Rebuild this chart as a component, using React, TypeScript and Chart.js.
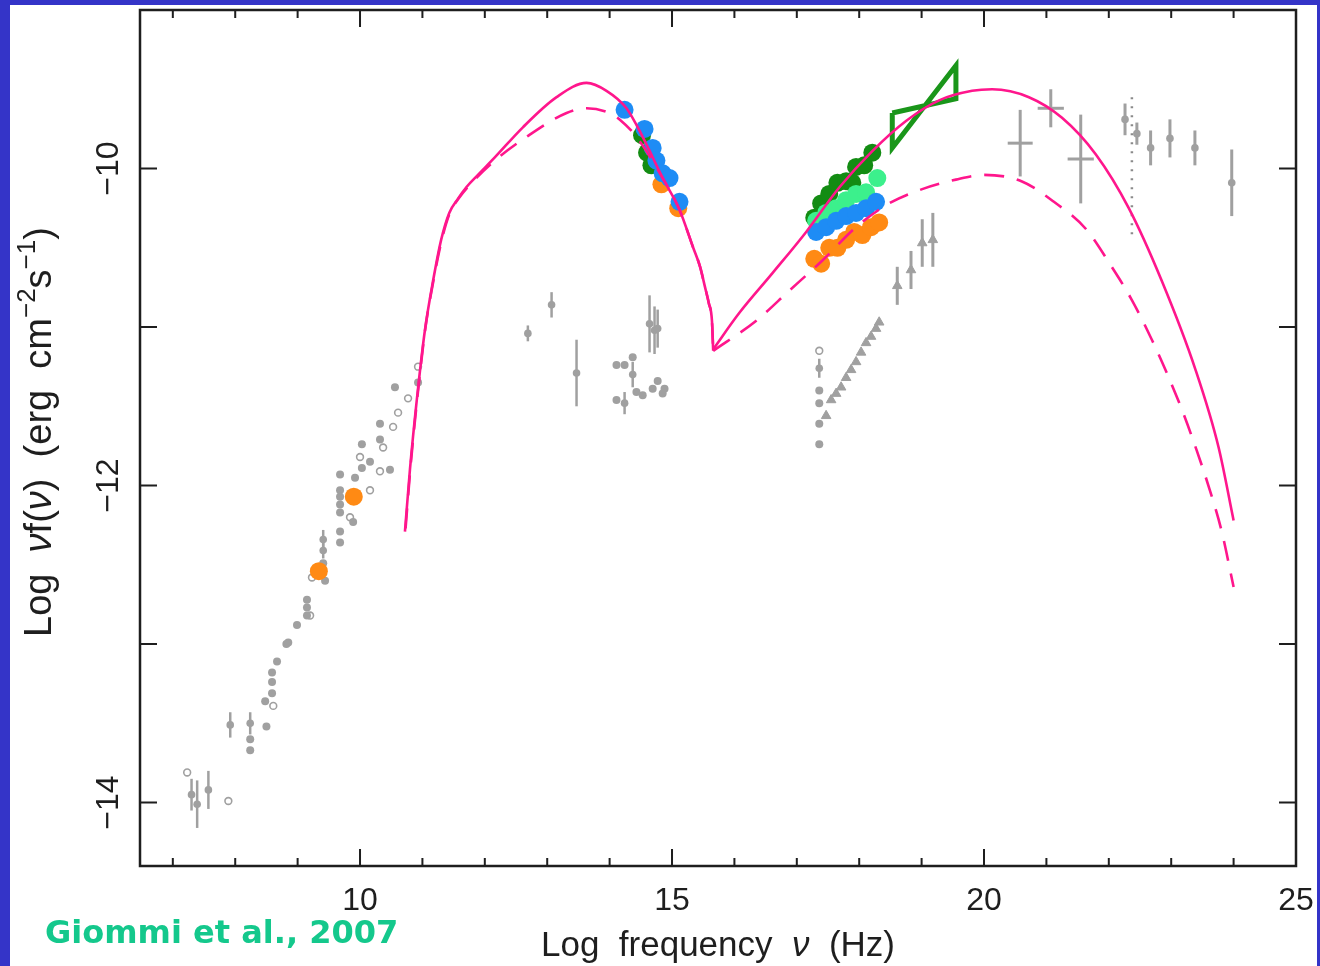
import React, { useEffect, useRef } from "react";
import { Chart, registerables } from "chart.js";

Chart.register(...registerables);

// ---------- axis ranges / ticks ----------
const X_MIN = 6.474;
const X_MAX = 25.0;
const Y_MIN = -14.4;
const Y_MAX = -9.0;
const X_TICK_LABELS = [10, 15, 20, 25];
const Y_TICK_LABELS = [-10, -12, -14];

// ---------- model curves ----------
const SOLID_SYN_X = [10.72, 10.8, 10.91, 11.04, 11.17, 11.3, 11.43, 11.57, 11.71, 11.89, 12.16, 12.61, 13.15, 13.63, 13.95, 14.27, 14.53, 14.85, 15.12, 15.34, 15.45, 15.53, 15.59, 15.64, 15.66];
const SOLID_SYN_Y = [-12.29, -11.9, -11.46, -11.02, -10.71, -10.45, -10.28, -10.19, -10.115, -10.04, -9.93, -9.74, -9.55, -9.46, -9.51, -9.62, -9.8, -10.06, -10.26, -10.5, -10.62, -10.75, -10.85, -10.96, -11.15];
const SOLID_IC_X = [15.66, 16.08, 16.61, 17.15, 17.68, 18.21, 18.75, 19.28, 19.81, 20.13, 20.72, 21.25, 21.79, 22.32, 22.85, 23.39, 23.76, 24.0];
const SOLID_IC_Y = [-11.14, -10.91, -10.66, -10.4, -10.12, -9.89, -9.7, -9.57, -9.51, -9.5, -9.55, -9.68, -9.91, -10.25, -10.71, -11.27, -11.76, -12.22];
const DASH_SYN_X = [10.73, 10.81, 10.92, 11.05, 11.18, 11.31, 11.44, 11.58, 11.72, 12.13, 12.67, 13.31, 13.63, 14.0, 14.16, 14.43, 14.85, 15.12, 15.34, 15.45, 15.53, 15.59, 15.64, 15.66];
const DASH_SYN_Y = [-12.27, -11.88, -11.44, -11.0, -10.7, -10.45, -10.28, -10.19, -10.12, -9.96, -9.8, -9.65, -9.62, -9.65, -9.69, -9.8, -10.06, -10.26, -10.5, -10.62, -10.75, -10.85, -10.96, -11.15];
const DASH_IC_X = [15.66, 16.35, 16.88, 17.41, 17.95, 18.48, 19.01, 19.55, 20.0, 20.6, 21.12, 21.63, 22.03, 22.37, 22.69, 22.93, 23.19, 23.41, 23.62, 23.81, 24.0];
const DASH_IC_Y = [-11.15, -10.96, -10.77, -10.58, -10.37, -10.22, -10.13, -10.07, -10.04, -10.08, -10.21, -10.38, -10.61, -10.83, -11.08, -11.29, -11.54, -11.78, -12.03, -12.29, -12.64];

// ---------- BAT bow-tie ----------
const BOW_X = [18.53, 19.55, 19.55, 18.53, 18.53];
const BOW_Y = [-9.65, -9.56, -9.35, -9.87, -9.65];

// ---------- coloured simultaneous data ----------
const BLUE_X = [14.24, 14.56, 14.69, 14.75, 14.85, 14.96, 15.12, 17.31, 17.47, 17.63, 17.79, 17.95, 18.11, 18.27];
const BLUE_Y = [-9.63, -9.75, -9.87, -9.95, -10.03, -10.06, -10.21, -10.4, -10.37, -10.33, -10.3, -10.28, -10.25, -10.21];
const ORANGE_X = [9.34, 9.9, 14.83, 15.1, 17.28, 17.39, 17.52, 17.65, 17.79, 17.92, 18.05, 18.19, 18.32];
const ORANGE_Y = [-12.54, -12.07, -10.1, -10.25, -10.57, -10.6, -10.5, -10.5, -10.45, -10.4, -10.42, -10.37, -10.34];
const LGREEN_X = [17.31, 17.47, 17.63, 17.79, 17.95, 18.11, 18.29];
const LGREEN_Y = [-10.33, -10.28, -10.25, -10.2, -10.16, -10.15, -10.06];
const DGREEN_X = [14.52, 14.6, 14.67, 17.28, 17.39, 17.52, 17.65, 17.79, 17.89, 17.95, 18.08, 18.21];
const DGREEN_Y = [-9.79, -9.9, -9.98, -10.31, -10.22, -10.16, -10.09, -10.08, -10.09, -9.99, -9.98, -9.9];

// ---------- archival (grey) data ----------
const GRAY_DOT_X = [10.93, 10.56, 10.32, 10.32, 10.03, 10.16, 10.03, 9.92, 10.48, 9.68, 9.68, 9.68, 9.68, 9.68, 9.89, 9.68, 9.68, 9.41, 9.44, 9.15, 9.15, 9.15, 8.99, 8.85, 8.82, 8.67, 8.59, 8.59, 8.59, 8.48, 8.5, 8.24, 8.24,
  14.11, 14.24, 14.37, 14.11, 14.43, 14.53, 14.69, 14.77, 14.88, 14.85, 17.36, 17.36, 17.36, 17.36];
const GRAY_DOT_Y = [-11.35, -11.38, -11.61, -11.71, -11.74, -11.85, -11.89, -11.95, -11.9, -11.93, -12.03, -12.07, -12.12, -12.17, -12.23, -12.29, -12.36, -12.49, -12.6, -12.72, -12.77, -12.82, -12.88, -12.99, -13.0, -13.11, -13.18, -13.24, -13.31, -13.36, -13.52, -13.6, -13.67,
  -11.24, -11.24, -11.19, -11.46, -11.41, -11.43, -11.39, -11.34, -11.39, -11.42, -11.4, -11.48, -11.61, -11.74];
const GRAY_OPEN_X = [10.93, 10.77, 10.61, 10.53, 10.37, 10.0, 10.32, 10.16, 9.84, 9.23, 9.2, 8.61, 7.23, 7.89, 17.36];
const GRAY_OPEN_Y = [-11.25, -11.45, -11.54, -11.63, -11.76, -11.82, -11.91, -12.03, -12.2, -12.58, -12.82, -13.39, -13.81, -13.99, -11.15];
const GRAY_ERR_X = [9.41, 9.41, 8.24, 7.92, 7.3, 7.39, 7.57, 12.69, 13.07, 13.47, 14.37, 14.24, 14.64, 14.72, 14.77, 17.36];
const GRAY_ERR_Y = [-12.34, -12.41, -13.5, -13.51, -13.95, -14.01, -13.92, -11.04, -10.86, -11.29, -11.3, -11.48, -10.98, -11.02, -11.01, -11.26];
const GRAY_ERR_E = [0.06, 0.05, 0.07, 0.08, 0.1, 0.15, 0.12, 0.05, 0.08, 0.21, 0.08, 0.07, 0.18, 0.15, 0.12, 0.06];
const TRI_X = [17.47, 17.55, 17.63, 17.71, 17.79, 17.87, 17.95, 18.03, 18.11, 18.19, 18.27, 18.32, 18.61, 18.83, 19.01, 19.18];
const TRI_Y = [-11.56, -11.46, -11.42, -11.38, -11.32, -11.27, -11.22, -11.16, -11.1, -11.06, -11.01, -10.97, -10.74, -10.64, -10.47, -10.45];
const TRI_E = [0, 0, 0, 0, 0, 0, 0, 0, 0, 0, 0, 0, 0.12, 0.12, 0.15, 0.17];
const GAMMA_X = [20.58, 21.07, 21.55];
const GAMMA_Y = [-9.84, -9.62, -9.94];
const GAMMA_EX = [0.2, 0.21, 0.21];
const GAMMA_EY = [0.21, 0.12, 0.28];
const TEV_X = [22.26, 22.45, 22.67, 22.98, 23.38, 23.97];
const TEV_Y = [-9.69, -9.78, -9.87, -9.81, -9.87, -10.09];
const TEV_E = [0.1, 0.07, 0.11, 0.12, 0.11, 0.21];
const LIMIT_X = [22.37, 22.37];
const LIMIT_Y = [-9.55, -10.42];

// ---------- styles ----------
const PINK = "#ff168c";
const GRAY = "#a0a0a0";
const AXIS = "#1e1e1e";
const FONT = "'Liberation Sans', Arial, sans-serif";

const pts = (xs: number[], ys: number[]) => xs.map((x, i) => ({ x, y: ys[i] }));
const ptsErr = (xs: number[], ys: number[], ey: number[], ex?: number[]) =>
  xs.map((x, i) => ({ x, y: ys[i], ey: ey[i], ex: ex ? ex[i] : 0 }));

const bgPlugin = {
  id: "bg",
  beforeDraw(chart: any) {
    const { ctx, width, height } = chart;
    ctx.save();
    ctx.fillStyle = "#ffffff";
    ctx.fillRect(0, 0, width, height);
    ctx.fillStyle = "#3434c8";
    ctx.fillRect(0, 0, 10, height);
    ctx.fillRect(0, 0, width, 5);
    ctx.fillRect(width - 3, 0, 3, height);
    ctx.restore();
  },
};

const errPlugin = {
  id: "errBars",
  beforeDatasetsDraw(chart: any) {
    const { ctx } = chart;
    const xs = chart.scales.x;
    const ys = chart.scales.y;
    ctx.save();
    chart.data.datasets.forEach((ds: any) => {
      if (!ds.errBars) return;
      ctx.strokeStyle = ds.errColor;
      ctx.lineWidth = ds.errWidth;
      ds.data.forEach((p: any) => {
        const px = xs.getPixelForValue(p.x);
        const py = ys.getPixelForValue(p.y);
        if (p.ey) {
          ctx.beginPath();
          ctx.moveTo(px, ys.getPixelForValue(p.y - p.ey));
          ctx.lineTo(px, ys.getPixelForValue(p.y + p.ey));
          ctx.stroke();
        }
        if (p.ex) {
          ctx.beginPath();
          ctx.moveTo(xs.getPixelForValue(p.x - p.ex), py);
          ctx.lineTo(xs.getPixelForValue(p.x + p.ex), py);
          ctx.stroke();
        }
      });
    });
    ctx.restore();
  },
};

type Seg = { t: string; italic?: boolean; sup?: boolean };

function drawRich(ctx: CanvasRenderingContext2D, segs: Seg[], size: number, cx: number, baseY: number) {
  const fontFor = (s: Seg) => `${s.italic ? "italic " : ""}${s.sup ? Math.round(size * 0.68) : size}px ${FONT}`;
  let total = 0;
  const widths = segs.map((s) => {
    ctx.font = fontFor(s);
    const w = ctx.measureText(s.t).width;
    total += w;
    return w;
  });
  let x = cx - total / 2;
  segs.forEach((s, i) => {
    ctx.font = fontFor(s);
    ctx.fillText(s.t, x, s.sup ? baseY - size * 0.42 : baseY);
    x += widths[i];
  });
}

const axesPlugin = {
  id: "axesBox",
  afterDraw(chart: any) {
    const { ctx, chartArea: a } = chart;
    const xs = chart.scales.x;
    const ys = chart.scales.y;
    ctx.save();
    ctx.strokeStyle = AXIS;
    ctx.lineWidth = 2.5;
    ctx.strokeRect(a.left, a.top, a.right - a.left, a.bottom - a.top);
    ctx.lineWidth = 2;
    ctx.beginPath();
    for (let v = Math.ceil(X_MIN); v <= Math.floor(X_MAX); v++) {
      const px = xs.getPixelForValue(v);
      const len = v % 5 === 0 ? 17 : 8;
      ctx.moveTo(px, a.bottom);
      ctx.lineTo(px, a.bottom - len);
      ctx.moveTo(px, a.top);
      ctx.lineTo(px, a.top + len);
    }
    for (let v = Math.ceil(Y_MIN); v <= Math.floor(Y_MAX); v++) {
      const py = ys.getPixelForValue(v);
      ctx.moveTo(a.left, py);
      ctx.lineTo(a.left + 17, py);
      ctx.moveTo(a.right, py);
      ctx.lineTo(a.right - 17, py);
    }
    ctx.stroke();

    ctx.fillStyle = AXIS;
    ctx.font = `32px ${FONT}`;
    ctx.textAlign = "center";
    ctx.textBaseline = "alphabetic";
    X_TICK_LABELS.forEach((v) => {
      ctx.fillText(String(v), xs.getPixelForValue(v), 910);
    });
    Y_TICK_LABELS.forEach((v) => {
      ctx.save();
      ctx.translate(118, ys.getPixelForValue(v));
      ctx.rotate(-Math.PI / 2);
      ctx.fillText("\u2212" + String(Math.abs(v)), 0, 0);
      ctx.restore();
    });

    ctx.textAlign = "left";
    drawRich(ctx, [{ t: "Log  frequency  " }, { t: "\u03bd", italic: true }, { t: "  (Hz)" }], 35, 718, 956);

    ctx.save();
    ctx.translate(51, 432);
    ctx.rotate(-Math.PI / 2);
    drawRich(
      ctx,
      [
        { t: "Log  " },
        { t: "\u03bd", italic: true },
        { t: "f(" },
        { t: "\u03bd", italic: true },
        { t: ")  (erg  cm" },
        { t: "\u22122", sup: true },
        { t: "s" },
        { t: "\u22121", sup: true },
        { t: ")" },
      ],
      38,
      0,
      0
    );
    ctx.restore();

    ctx.fillStyle = "#14c88c";
    ctx.font = `bold 32px 'DejaVu Sans', Verdana, sans-serif`;
    ctx.fillText("Giommi et al., 2007", 45, 943);
    ctx.restore();
  },
};

export default function App() {
  const ref = useRef<HTMLCanvasElement | null>(null);

  useEffect(() => {
    if (!ref.current) return;
    const curve = (d: any[], dashed: boolean) => ({
      data: d,
      showLine: true,
      borderColor: PINK,
      borderWidth: 2.6,
      borderDash: dashed ? [20, 13] : [],
      pointRadius: 0,
      cubicInterpolationMode: "monotone",
      fill: false,
    });
    const dots = (d: any[], color: string, r = 9) => ({
      data: d,
      backgroundColor: color,
      borderWidth: 0,
      pointRadius: r,
      showLine: false,
    });
    const chart = new Chart(ref.current, {
      type: "scatter",
      data: {
        datasets: [
          curve(pts(SOLID_SYN_X, SOLID_SYN_Y), false),
          curve(pts(SOLID_IC_X, SOLID_IC_Y), false),
          curve(pts(DASH_SYN_X, DASH_SYN_Y), true),
          curve(pts(DASH_IC_X, DASH_IC_Y), true),
          {
            data: pts(BOW_X, BOW_Y),
            showLine: true,
            borderColor: "#1a961a",
            borderWidth: 5,
            pointRadius: 0,
            tension: 0,
            borderJoinStyle: "miter",
          },
          dots(pts(BLUE_X, BLUE_Y), "#1e8cf5"),
          dots(pts(ORANGE_X, ORANGE_Y), "#ff8a14"),
          dots(pts(LGREEN_X, LGREEN_Y), "#3cf08c"),
          dots(pts(DGREEN_X, DGREEN_Y), "#138c13"),
          {
            data: pts(LIMIT_X, LIMIT_Y),
            showLine: true,
            borderColor: "#8a8a8a",
            borderWidth: 2.5,
            borderDash: [2, 7],
            pointRadius: 0,
          },
          {
            data: ptsErr(GAMMA_X, GAMMA_Y, GAMMA_EY, GAMMA_EX),
            errBars: true,
            errColor: GRAY,
            errWidth: 3,
            pointRadius: 0,
          },
          {
            data: ptsErr(TEV_X, TEV_Y, TEV_E),
            errBars: true,
            errColor: GRAY,
            errWidth: 3,
            backgroundColor: GRAY,
            borderWidth: 0,
            pointRadius: 3.8,
          },
          {
            data: ptsErr(TRI_X, TRI_Y, TRI_E),
            errBars: true,
            errColor: GRAY,
            errWidth: 3,
            pointStyle: "triangle",
            backgroundColor: GRAY,
            borderColor: GRAY,
            borderWidth: 1,
            pointRadius: 5.5,
          },
          {
            data: ptsErr(GRAY_ERR_X, GRAY_ERR_Y, GRAY_ERR_E),
            errBars: true,
            errColor: GRAY,
            errWidth: 2.5,
            backgroundColor: GRAY,
            borderWidth: 0,
            pointRadius: 3.8,
          },
          {
            data: pts(GRAY_DOT_X, GRAY_DOT_Y),
            backgroundColor: GRAY,
            borderWidth: 0,
            pointRadius: 4,
          },
          {
            data: pts(GRAY_OPEN_X, GRAY_OPEN_Y),
            backgroundColor: "#ffffff",
            borderColor: GRAY,
            borderWidth: 1.6,
            pointRadius: 3.4,
          },
        ] as any,
      },
      options: {
        animation: false,
        responsive: false,
        devicePixelRatio: 1,
        layout: { padding: { left: 140, top: 10, right: 24, bottom: 100 } },
        plugins: { legend: { display: false }, tooltip: { enabled: false } },
        events: [],
        scales: {
          x: { type: "linear", min: X_MIN, max: X_MAX, display: false },
          y: { type: "linear", min: Y_MIN, max: Y_MAX, display: false },
        },
      } as any,
      plugins: [bgPlugin, errPlugin, axesPlugin],
    });
    return () => chart.destroy();
  }, []);

  return (
    <div style={{ position: "fixed", left: 0, top: 0, width: 1320, height: 966, background: "#fff" }}>
      <canvas ref={ref} width={1320} height={966} style={{ display: "block", width: 1320, height: 966 }} />
    </div>
  );
}
